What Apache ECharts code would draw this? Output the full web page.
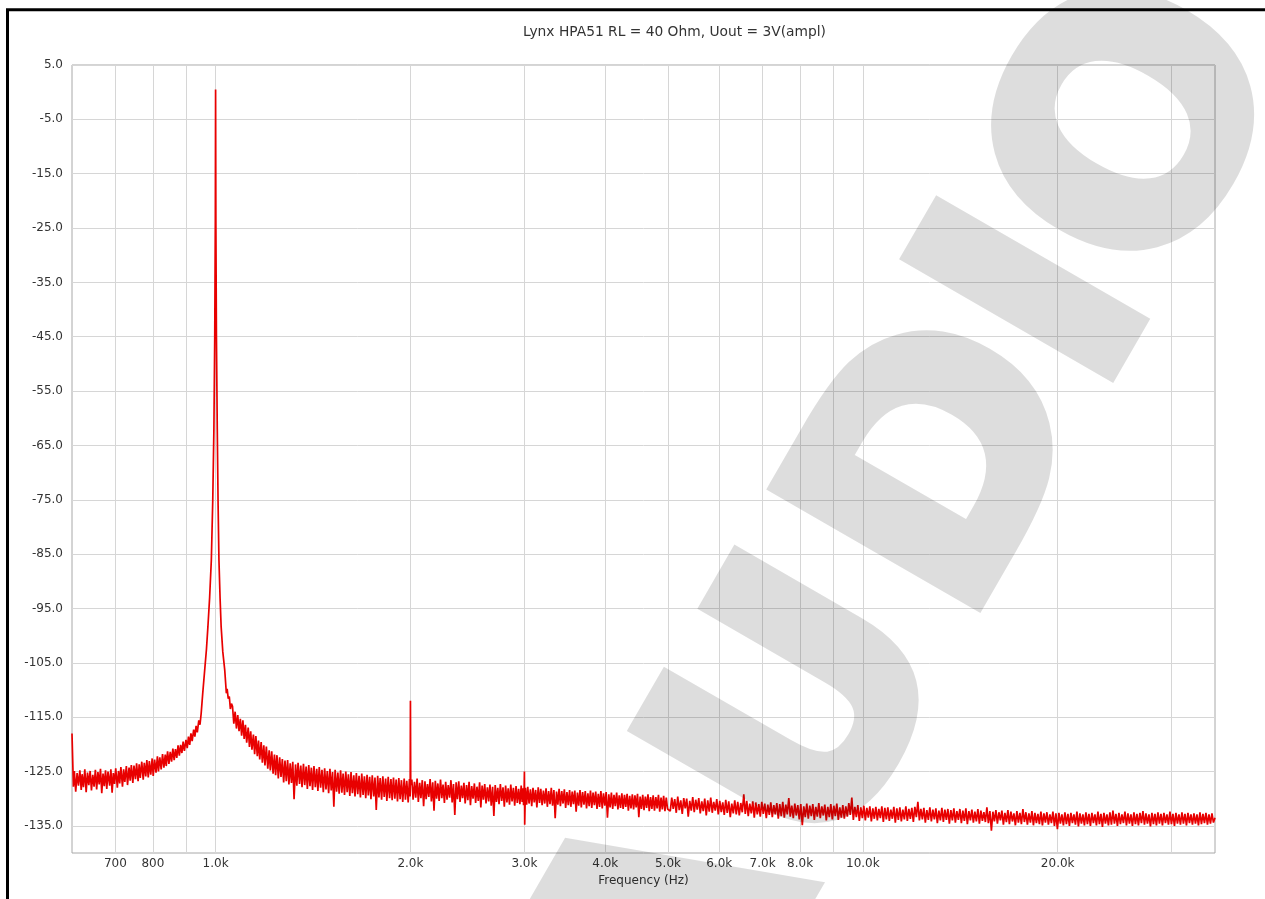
<!DOCTYPE html>
<html lang="en">
<head>
  <meta charset="UTF-8">
  <title>Lynx HPA51 spectrum</title>
  <script src="https://cdn.jsdelivr.net/npm/echarts@6/dist/echarts.min.js"></script>
  <style>
    html,body{margin:0;padding:0;background:#fff;}
    #main{width:1265px;height:899px;}
  </style>
</head>
<body>
<div id="main"></div>
<script>
  // FFT spectrum, [frequency Hz, level dB]
  var lowBand = [
    [600,-118.0],[603,-127.8],[605,-124.9],[608,-128.7],[611,-125.3],[614,-127.6],[617,-124.8],[620,-128.4],
    [622,-125.5],[625,-127.9],[628,-124.6],[631,-128.8],[634,-125.2],[637,-127.5],[640,-124.9],[643,-128.5],
    [646,-125.6],[649,-127.8],[652,-124.7],[655,-128.3],[658,-125.1],[661,-127.4],[664,-124.5],[667,-129.0],
    [670,-125.4],[673,-127.7],[676,-124.8],[679,-128.2],[682,-125.0],[686,-127.6],[689,-124.6],[692,-128.9],
    [695,-125.3],[698,-127.3],[701,-124.4],[705,-128.0],[708,-124.9],[711,-127.2],[714,-124.2],[718,-127.8],
    [721,-124.6],[724,-126.9],[728,-124.0],[731,-127.5],[735,-124.3],[738,-126.7],[741,-123.8],[745,-127.1],
    [748,-123.9],[752,-126.4],[755,-123.5],[759,-126.8],[762,-123.7],[765,-126.2],[769,-123.2],[773,-126.5],
    [776,-123.4],[780,-125.9],[783,-122.9],[787,-126.1],[790,-123.1],[794,-125.6],[798,-122.6],[801,-125.8],
    [805,-122.8],[809,-125.2],[813,-122.2],[816,-125.0],[820,-122.4],[824,-124.6],[828,-121.8],[832,-124.3],
    [836,-121.9],[839,-124.0],[843,-121.3],[847,-123.6],[851,-121.4],[855,-123.2],[859,-120.8],[863,-122.9],
    [867,-120.9],[871,-122.5],[875,-120.2],[879,-122.1],[883,-120.1],[887,-121.6],[891,-119.5],[895,-121.2],
    [900,-119.2],[904,-120.7],[908,-118.6],[912,-120.1],[916,-118.0],[920,-119.4],[925,-117.3],[929,-118.6],
    [933,-116.6],[937,-117.8],[942,-115.6],[946,-116.4],[950,-114.3]
  ];
  var peakBand = [
    [955,-110.8],[962,-106.3],[968,-102.5],[973,-98.4],[979,-93.0],[985,-86.1],[990,-75.0],[994,-62.0],
    [997,-45.0],[999,-24.0],[1000,0.5],[1001,-24.0],[1003,-45.0],[1006,-62.0],[1009,-76.0],[1012,-86.1],
    [1016,-93.0],[1020,-98.4],[1026,-103.0],[1033,-106.3],[1039,-110.6],[1042,-109.8],[1046,-111.6],
    [1050,-111.2],[1054,-113.5],[1058,-112.5]
  ];
  var midBand = [
    [1062,-113.0],[1067,-116.2],[1072,-114.0],[1077,-117.1],[1082,-114.6],[1087,-117.6],[1092,-115.3],[1097,-118.4],
    [1102,-115.6],[1107,-119.0],[1112,-116.4],[1117,-119.7],[1123,-116.9],[1128,-120.5],[1133,-117.6],[1138,-121.0],
    [1144,-118.2],[1149,-121.8],[1154,-118.5],[1160,-122.2],[1165,-119.3],[1170,-122.8],[1176,-119.6],[1181,-123.4],
    [1187,-120.2],[1192,-123.9],[1198,-120.4],[1204,-124.5],[1210,-121.1],[1215,-124.8],[1221,-121.3],[1227,-125.4],
    [1233,-121.9],[1238,-125.7],[1244,-122.0],[1250,-126.3],[1256,-122.4],[1262,-126.0],[1268,-122.7],[1274,-127.0],
    [1280,-123.0],[1286,-126.8],[1292,-122.9],[1298,-127.4],[1304,-123.5],[1310,-127.1],[1316,-123.2],[1322,-130.1],
    [1329,-123.7],[1335,-127.6],[1341,-123.4],[1348,-127.3],[1354,-123.9],[1360,-127.9],[1367,-123.6],[1373,-127.5],
    [1380,-124.1],[1386,-128.2],[1393,-123.8],[1399,-127.7],[1406,-124.3],[1412,-128.4],[1419,-124.0],[1426,-127.9],
    [1433,-124.5],[1439,-128.6],[1446,-124.2],[1453,-128.0],[1460,-124.7],[1467,-128.8],[1474,-124.4],[1481,-128.3],
    [1488,-124.9],[1495,-129.0],[1502,-124.5],[1509,-128.5],[1516,-125.1],[1523,-131.5],[1530,-124.7],[1538,-128.7],
    [1545,-125.2],[1552,-129.1],[1560,-124.8],[1567,-128.9],[1574,-125.4],[1582,-129.3],[1589,-125.0],[1597,-128.8],
    [1604,-125.5],[1612,-129.5],[1619,-125.1],[1627,-129.0],[1635,-125.7],[1642,-129.6],[1650,-125.3],[1658,-129.2],
    [1666,-125.8],[1674,-129.8],[1682,-125.4],[1690,-129.3],[1698,-125.9],[1706,-129.9],[1714,-125.6],[1722,-129.4],
    [1730,-126.0],[1738,-130.1],[1746,-125.7],[1755,-129.6],[1763,-126.1],[1771,-132.1],[1780,-125.8],[1788,-129.8],
    [1796,-126.2],[1805,-130.2],[1813,-125.9],[1822,-129.7],[1831,-126.3],[1839,-130.4],[1848,-126.0],[1857,-129.9],
    [1866,-126.4],[1874,-130.3],[1883,-126.1],[1892,-130.0],[1901,-126.5],[1910,-130.5],[1919,-126.2],[1928,-130.1],
    [1937,-126.6],[1946,-130.6],[1956,-126.3],[1965,-130.2],[1974,-126.7],[1984,-130.7],[1993,-126.4],[1998,-129.6],
    [2000,-112.0],[2002,-127.5]
  ];
  var upperBand = [
    [2010,-126.5],[2019,-130.2],[2029,-126.9],[2038,-129.8],[2048,-126.3],[2057,-130.6],[2067,-127.1],[2076,-129.9],
    [2086,-126.6],[2096,-131.4],[2106,-126.8],[2115,-130.1],[2125,-127.3],[2135,-129.7],[2145,-126.4],[2155,-130.5],
    [2165,-127.0],[2175,-132.2],[2185,-126.7],[2195,-130.0],[2205,-127.2],[2215,-130.4],[2226,-126.5],[2236,-129.9],
    [2246,-127.4],[2257,-130.8],[2267,-126.9],[2278,-130.2],[2288,-127.5],[2299,-129.8],[2310,-126.6],[2320,-130.7],
    [2331,-127.3],[2342,-133.0],[2353,-127.0],[2364,-130.1],[2375,-126.8],[2386,-130.6],[2397,-127.6],[2408,-129.9],
    [2419,-127.1],[2430,-130.9],[2442,-127.5],[2453,-130.3],[2464,-126.9],[2476,-131.2],[2487,-127.7],[2499,-130.0],
    [2511,-127.2],[2522,-130.8],[2534,-127.8],[2546,-130.4],[2558,-127.0],[2569,-131.6],[2581,-127.6],[2593,-130.2],
    [2605,-127.3],[2617,-130.9],[2630,-127.9],[2642,-130.5],[2654,-127.4],[2666,-131.3],[2679,-127.8],[2691,-133.2],
    [2704,-127.5],[2716,-130.6],[2729,-128.0],[2741,-131.0],[2754,-127.3],[2767,-130.4],[2780,-127.9],[2793,-131.5],
    [2806,-127.6],[2819,-130.7],[2832,-128.1],[2845,-131.1],[2858,-127.4],[2871,-130.5],[2885,-128.0],[2898,-131.3],
    [2912,-127.7],[2925,-130.8],[2939,-128.2],[2952,-131.0],[2966,-127.6],[2976,-130.6],[2985,-128.1],[2991,-131.2],
    [2997,-128.3],[3000,-125.0],[3003,-134.8],[3011,-128.0],[3024,-131.1],[3036,-127.8],[3050,-130.9],[3065,-128.3],
    [3079,-131.4],[3093,-128.0],[3107,-130.7],[3122,-128.4],[3136,-131.6],[3151,-127.9],[3166,-130.8],[3180,-128.2],
    [3195,-131.2],[3210,-128.5],[3225,-130.9],[3240,-128.1],[3255,-131.5],[3270,-128.6],[3286,-131.0],[3301,-128.0],
    [3316,-131.3],[3332,-128.4],[3347,-133.6],[3363,-128.7],[3379,-131.1],[3394,-128.2],[3410,-131.4],[3426,-128.6],
    [3442,-130.9],[3458,-128.3],[3474,-131.7],[3490,-128.8],[3507,-131.2],[3523,-128.4],[3539,-131.5],[3556,-128.7],
    [3572,-131.0],[3589,-128.5],[3606,-132.4],[3623,-128.9],[3639,-131.3],[3656,-128.4],[3673,-131.6],[3690,-128.8],
    [3708,-131.1],[3725,-128.6],[3742,-131.8],[3760,-129.0],[3777,-131.4],[3795,-128.5],[3812,-131.7],[3830,-128.9],
    [3848,-131.2],[3866,-128.7],[3884,-131.9],[3902,-129.1],[3920,-131.5],[3938,-128.6],[3957,-131.8],[3975,-129.0],
    [3994,-131.3],[4012,-128.8],[4031,-133.5],[4050,-129.2],[4069,-131.6],[4088,-128.9],[4107,-131.9],[4126,-129.3],
    [4145,-131.4],[4165,-128.9],[4184,-132.0],[4204,-129.4],[4223,-131.7],[4243,-129.0],[4262,-131.9],[4283,-129.3],
    [4302,-131.5],[4323,-129.1],[4342,-132.2],[4363,-129.5],[4383,-131.8],[4404,-129.2],[4424,-132.0],[4445,-129.4],
    [4465,-131.6],[4486,-129.1],[4507,-133.4],[4528,-129.6],[4549,-131.9],[4570,-129.3],[4591,-132.1],[4613,-129.6],
    [4634,-131.7],[4656,-129.2],[4677,-132.3],[4699,-129.7],[4721,-131.9],[4743,-129.4],[4765,-132.2],[4788,-129.7],
    [4810,-131.8],[4833,-129.3],[4855,-132.4],[4878,-129.8],[4900,-132.0],[4923,-129.5],[4946,-132.3],[4969,-129.8],
    [4992,-131.9]
  ];
  var highBand = [
    [5040,-132.3],[5067,-129.8],[5094,-131.9],[5121,-130.1],[5149,-132.6],[5176,-129.6],[5204,-132.1],[5232,-130.3],
    [5260,-132.8],[5288,-129.9],[5316,-131.8],[5344,-130.0],[5373,-133.3],[5402,-130.4],[5431,-132.2],[5460,-129.7],
    [5489,-132.5],[5518,-130.2],[5548,-132.0],[5578,-129.9],[5608,-132.7],[5638,-130.5],[5668,-132.3],[5698,-130.0],
    [5729,-133.1],[5759,-130.3],[5790,-132.4],[5821,-129.8],[5852,-132.6],[5883,-130.6],[5915,-132.2],[5947,-130.1],
    [5979,-132.9],[6011,-130.4],[6043,-132.5],[6075,-130.7],[6108,-133.0],[6140,-130.2],[6173,-132.6],[6206,-130.5],
    [6240,-133.4],[6273,-130.9],[6307,-132.7],[6340,-130.3],[6374,-132.9],[6408,-130.6],[6443,-133.1],[6477,-130.8],
    [6512,-132.5],[6547,-129.2],[6582,-132.8],[6617,-130.4],[6652,-133.2],[6688,-130.9],[6724,-132.7],[6760,-130.5],
    [6796,-133.5],[6832,-130.7],[6869,-132.9],[6906,-131.0],[6943,-133.3],[6980,-130.6],[7017,-132.8],[7055,-130.9],
    [7093,-133.6],[7131,-131.1],[7169,-133.0],[7207,-130.7],[7246,-133.4],[7285,-131.2],[7323,-132.9],[7363,-130.8],
    [7402,-133.7],[7441,-131.0],[7481,-133.2],[7521,-130.6],[7562,-133.5],[7602,-131.1],[7643,-132.9],[7684,-129.9],
    [7725,-133.3],[7766,-131.3],[7808,-133.6],[7850,-130.9],[7891,-133.1],[7934,-131.2],[7976,-133.8],[8019,-131.0],
    [8062,-134.9],[8105,-131.4],[8148,-133.4],[8192,-130.9],[8236,-133.7],[8280,-131.3],[8324,-133.2],[8369,-131.0],
    [8414,-133.9],[8459,-131.5],[8504,-133.3],[8550,-130.8],[8595,-133.6],[8641,-131.4],[8688,-133.1],[8734,-131.1],
    [8781,-134.0],[8828,-131.5],[8875,-133.4],[8923,-131.0],[8971,-133.8],[9019,-131.3],[9067,-133.2],[9115,-130.9],
    [9164,-133.9],[9213,-131.6],[9263,-133.5],[9312,-131.2],[9362,-133.7],[9412,-131.4],[9463,-133.3],[9513,-130.8],
    [9564,-133.0],[9615,-129.8],[9667,-133.9],[9719,-131.5],[9771,-133.4],[9823,-131.2],[9876,-134.1],[9929,-131.6],
    [9982,-133.6],[10035,-131.3],[10089,-134.0],[10143,-131.7],[10197,-133.5],[10252,-131.4],[10307,-134.2],[10362,-131.8],
    [10417,-133.7],[10473,-131.5],[10529,-134.0],[10585,-131.9],[10642,-133.6],[10699,-131.4],[10756,-134.3],[10814,-131.7],
    [10872,-133.8],[10930,-131.6],[10988,-134.1],[11047,-132.0],[11106,-133.7],[11165,-131.5],[11225,-134.4],[11285,-131.8],
    [11346,-133.9],[11407,-131.6],[11468,-134.2],[11529,-132.0],[11591,-133.8],[11653,-131.4],[11715,-134.1],[11778,-131.9],
    [11841,-133.7],[11904,-131.7],[11968,-134.3],[12032,-131.5],[12097,-133.4],[12162,-130.6],[12227,-134.0],[12292,-131.9],
    [12358,-133.8],[12424,-131.7],[12490,-134.4],[12557,-132.1],[12624,-133.9],[12692,-131.6],[12760,-134.2],[12828,-132.0],
    [12897,-133.8],[12966,-131.8],[13035,-134.5],[13105,-132.2],[13175,-134.0],[13246,-131.7],[13317,-134.3],[13388,-132.0],
    [13460,-133.9],[13532,-131.9],[13604,-134.6],[13677,-132.1],[13750,-134.0],[13824,-131.8],[13898,-134.4],[13972,-132.3],
    [14047,-133.9],[14122,-131.9],[14198,-134.5],[14274,-132.2],[14350,-134.1],[14427,-131.8],[14504,-134.7],[14582,-132.3],
    [14660,-134.0],[14738,-132.0],[14817,-134.4],[14896,-132.4],[14976,-134.2],[15056,-131.9],[15137,-134.6],[15218,-132.2],
    [15300,-134.1],[15382,-132.5],[15464,-134.3],[15547,-131.6],[15630,-134.5],[15714,-132.3],[15798,-135.9],[15882,-132.4],
    [15967,-134.2],[16053,-132.1],[16139,-134.6],[16225,-132.5],[16312,-134.0],[16399,-132.2],[16487,-134.8],[16575,-132.6],
    [16664,-134.3],[16753,-132.1],[16843,-134.7],[16933,-132.4],[17024,-134.2],[17115,-132.7],[17206,-134.9],[17298,-132.3],
    [17391,-134.4],[17484,-132.6],[17578,-134.7],[17672,-131.9],[17766,-134.3],[17861,-132.5],[17957,-134.8],[18053,-132.7],
    [18150,-134.4],[18247,-132.3],[18345,-134.9],[18443,-132.6],[18541,-134.5],[18640,-132.8],[18740,-134.7],[18841,-132.4],
    [18942,-134.9],[19043,-132.7],[19145,-134.4],[19247,-132.5],[19350,-134.8],[19454,-132.9],[19558,-134.5],[19663,-132.4],
    [19768,-135.0],[19874,-132.7],[19980,-135.6],[20087,-132.6],[20194,-134.6],[20302,-132.9],[20411,-134.9],[20520,-132.5],
    [20630,-134.7],[20741,-132.8],[20852,-135.0],[20963,-132.6],[21075,-134.5],[21188,-132.9],[21302,-134.8],[21416,-132.4],
    [21530,-135.1],[21645,-132.7],[21761,-134.6],[21878,-132.9],[21995,-134.9],[22113,-132.5],[22231,-134.7],[22350,-132.8],
    [22470,-135.0],[22590,-132.6],[22711,-134.5],[22833,-132.9],[22955,-134.9],[23078,-132.4],[23201,-134.7],[23325,-132.8],
    [23450,-135.2],[23576,-132.6],[23702,-134.6],[23829,-132.9],[23956,-134.9],[24084,-132.5],[24213,-134.8],[24343,-132.2],
    [24473,-134.6],[24604,-132.8],[24736,-135.0],[24868,-132.6],[25001,-134.7],[25135,-132.9],[25270,-134.5],[25405,-132.4],
    [25541,-134.9],[25678,-132.7],[25815,-134.6],[25953,-132.9],[26092,-135.0],[26232,-132.5],[26372,-134.7],[26513,-132.8],
    [26655,-134.9],[26798,-132.6],[26941,-134.5],[27086,-132.3],[27231,-134.8],[27376,-132.7],[27523,-134.6],[27670,-132.9],
    [27818,-135.1],[27967,-132.6],[28117,-134.7],[28267,-132.8],[28418,-134.9],[28570,-132.5],[28723,-134.6],[28877,-132.8],
    [29032,-134.9],[29187,-132.6],[29343,-134.5],[29500,-132.9],[29658,-134.8],[29817,-132.4],[29976,-134.7],[30137,-132.8],
    [30298,-135.0],[30460,-132.6],[30623,-134.6],[30787,-132.9],[30952,-134.8],[31118,-132.5],[31284,-134.6],[31452,-132.8],
    [31620,-134.9],[31789,-132.6],[31959,-134.5],[32130,-132.9],[32302,-134.8],[32475,-132.7],[32649,-134.6],[32824,-132.9],
    [32999,-134.9],[33176,-132.5],[33353,-134.7],[33532,-132.8],[33711,-134.5],[33892,-132.6],[34073,-134.8],[34255,-132.9],
    [34439,-134.6],[34623,-132.7],[34808,-134.4],[35000,-133.5]
  ];

  var xGrid = [700,800,900,1000,2000,3000,4000,5000,6000,7000,8000,9000,10000,20000,30000];
  var xLabelValues = [700,800,1000,2000,3000,4000,5000,6000,7000,8000,10000,20000];
  var xLabelText = ['700','800','1.0k','2.0k','3.0k','4.0k','5.0k','6.0k','7.0k','8.0k','10.0k','20.0k'];
  var yTicks = [5,-5,-15,-25,-35,-45,-55,-65,-75,-85,-95,-105,-115,-125,-135];

  var font = 'DejaVu Sans';

  // site watermark, drawn once off screen so fill and outline share one alpha
  var mark = document.createElement('canvas');
  mark.width = 1265; mark.height = 899;
  var mctx = mark.getContext('2d');
  mctx.translate(926, 527);
  mctx.rotate(-Math.PI / 3);
  mctx.font = 'bold 320px "DejaVu Sans"';
  mctx.textAlign = 'left';
  mctx.textBaseline = 'middle';
  mctx.lineWidth = 14;
  mctx.fillStyle = '#000';
  mctx.strokeStyle = '#000';
  var word = 'AUDIO';
  var nudge = [-37, -19, 0, 0, 0];   // the original letters sit a bit wider apart
  var pos = -mctx.measureText(word).width / 2;
  for (var k = 0; k < word.length; k++) {
    mctx.strokeText(word[k], pos + nudge[k], 0);
    mctx.fillText(word[k], pos + nudge[k], 0);
    pos += mctx.measureText(word[k]).width;
  }

  var chart = echarts.init(document.getElementById('main'));

  chart.setOption({
    animation:false,
    backgroundColor:'#fff',
    title:{
      text:'Lynx HPA51 RL = 40 Ohm, Uout = 3V(ampl)',
      left:523, top:25, padding:0,
      textStyle:{fontFamily:font,fontSize:13.8,fontWeight:'normal',color:'#333'}
    },
    grid:{left:72,right:50,top:65,bottom:46,show:true,borderColor:'#a8a8a8',borderWidth:1,outerBoundsMode:'none'},
    xAxis:{
      type:'log', logBase:10, min:600, max:35000,
      name:'Frequency (Hz)', nameLocation:'middle', nameGap:22,
      nameTextStyle:{fontFamily:font,fontSize:12,color:'#333'},
      axisLine:{show:false},
      axisTick:{show:false,customValues:xGrid},
      axisLabel:{
        customValues:xLabelValues, margin:5,
        fontFamily:font, fontSize:12, color:'#333',
        formatter:function(v){
          for (var i=0;i<xLabelValues.length;i++){
            if (Math.abs(xLabelValues[i]-v)/xLabelValues[i] < 0.001) return xLabelText[i];
          }
          return '';
        }
      },
      splitLine:{show:true,lineStyle:{color:'#d6d6d6',width:1}}
    },
    yAxis:{
      type:'value', min:-140, max:5,
      axisLine:{show:false},
      axisTick:{show:false,customValues:yTicks},
      axisLabel:{
        customValues:yTicks, margin:9,
        fontFamily:font, fontSize:12, color:'#333',
        formatter:function(v){ return v.toFixed(1); }
      },
      splitLine:{show:true,lineStyle:{color:'#d6d6d6',width:1}}
    },
    series:[{
      type:'line',
      data:[].concat(lowBand,peakBand,midBand,upperBand,highBand),
      showSymbol:false,
      silent:true,
      lineStyle:{color:'#e80000',width:1.7}
    }],
    graphic:[
      {
        type:'rect', z:50, silent:true,
        shape:{x:7.5,y:9.8,width:1300,height:1000},
        style:{fill:null,stroke:'#000',lineWidth:3}
      },
      {
        type:'image', z:100, silent:true,
        style:{image:mark, x:0, y:0, width:1265, height:899, opacity:0.13}
      }
    ]
  });
</script>
</body>
</html>
